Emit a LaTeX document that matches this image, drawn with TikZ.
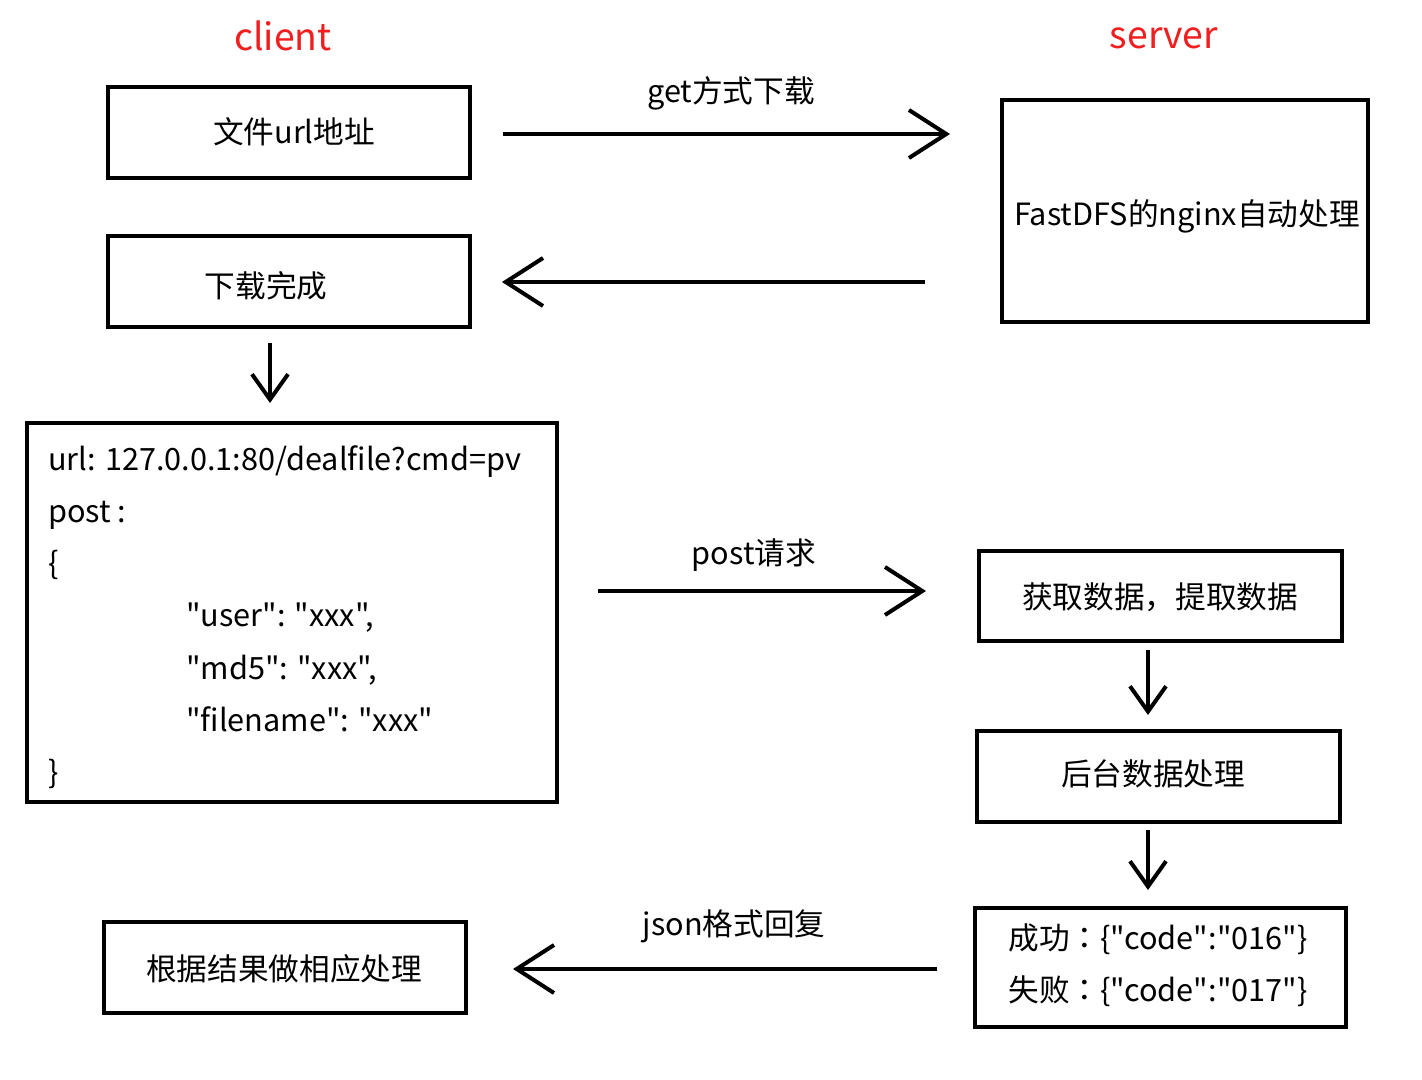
\documentclass[tikz,border=0pt]{standalone}
\usepackage{fontspec}
\newfontfamily\cjk{Noto Sans CJK SC}
\newfontfamily\cjktc{Noto Sans CJK TC}
\usetikzlibrary{arrows.meta}
\definecolor{titlered}{RGB}{240,30,30}
\tikzset{
  box/.style={draw=black, line width=3pt, inner sep=0pt},
  lbl/.style={font=\cjk\fontsize{23}{27}\selectfont, inner sep=0pt, anchor=center},
  conn/.style={line width=3pt, -{Straight Barb[length=28pt,width=36pt,line width=3pt]}},
  dconn/.style={line width=3pt, -{Straight Barb[length=19pt,width=27pt,line width=3pt]}},
  ttl/.style={font=\cjk\fontsize{28}{32}\selectfont, text=titlered, inner sep=0pt}
}
\begin{document}
\begin{tikzpicture}[x=0.75pt,y=-0.75pt]
\useasboundingbox (0,0) rectangle (1422,1080);
\fill[white] (0,0) rectangle (1422,1080);
% titles
\node[ttl] (tclient) at (283,36) {client};
\node[ttl] (tserver) at (1164,38) {server};
% boxes
\draw[box] (108,87) rectangle (470,178);
\node[lbl] (b1) at (294,132) {文件url地址};
\draw[box] (108,236) rectangle (470,327);
\node[lbl] (b2) at (266,286) {下载完成};
\draw[box] (1002,100) rectangle (1368,322);
\node[lbl] (srv) at (1187,216) {FastDFS的nginx自动处理};
\draw[box] (27,423) rectangle (557,802);
\node[lbl, anchor=base west] (l1) at (48,471) {url: 127.0.0.1:80/dealfile?cmd=pv};
\node[lbl, anchor=base west] (l2) at (48,523) {post :};
\node[lbl, anchor=base west] (l3) at (48,575) {\{};
\node[lbl, anchor=base west] (l4) at (186,627) {"user": "xxx",};
\node[lbl, anchor=base west] (l5) at (186,679) {"md5": "xxx",};
\node[lbl, anchor=base west] (l6) at (186,731) {"filename": "xxx"};
\node[lbl, anchor=base west] (l7) at (48,783) {\}};
\draw[box] (979,551) rectangle (1342,641);
\node[lbl] (g1) at (1160,597) {获取数据，提取数据};
\draw[box] (977,731) rectangle (1340,822);
\node[lbl] (g2) at (1153,774) {后台数据处理};
\draw[box] (975,908) rectangle (1346,1027);
\node[lbl] (r1) at (1158,939) {成功{\cjktc ：}\{"code":"016"\}};
\node[lbl] (r2) at (1158,991) {失败{\cjktc ：}\{"code":"017"\}};
\draw[box] (104,922) rectangle (466,1013);
\node[lbl] (fin) at (284,969) {根据结果做相应处理};
% connectors
\coordinate (a1s) at (503,134); \coordinate (a1e) at (950,134);
\draw[conn] (a1s) -- (a1e);
\node[lbl] (a1l) at (731,93) {get方式下载};
\coordinate (a2s) at (925,282); \coordinate (a2e) at (502,282);
\draw[conn] (a2s) -- (a2e);
\coordinate (a3s) at (270,343); \coordinate (a3e) at (270,403);
\draw[dconn] (a3s) -- (a3e);
\coordinate (a4s) at (598,591); \coordinate (a4e) at (926,591);
\draw[conn] (a4s) -- (a4e);
\node[lbl] (a4l) at (754,555) {post请求};
\coordinate (a5s) at (1148,650); \coordinate (a5e) at (1148,715);
\draw[dconn] (a5s) -- (a5e);
\coordinate (a6s) at (1148,830); \coordinate (a6e) at (1148,890);
\draw[dconn] (a6s) -- (a6e);
\coordinate (a7s) at (937,969); \coordinate (a7e) at (513,969);
\draw[conn] (a7s) -- (a7e);
\node[lbl] (a7l) at (734,926) {json格式回复};
\end{tikzpicture}
\end{document}
